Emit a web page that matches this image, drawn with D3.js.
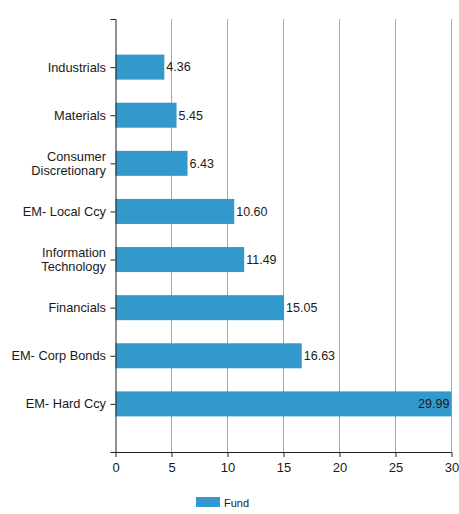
<!DOCTYPE html>
<html>
<head>
<meta charset="utf-8">
<script src="https://cdn.jsdelivr.net/npm/d3@7"></script>
<style>
  body { margin: 0; background: #fff; }
  text { font-family: "Liberation Sans", Arial, sans-serif; fill: #1a1a1a; }
</style>
</head>
<body>
<div id="chart"></div>
<script>
const categories = ["Industrials", "Materials", "Consumer Discretionary", "EM- Local Ccy",
  "Information Technology", "Financials", "EM- Corp Bonds", "EM- Hard Ccy"];
const labelLines = [["Industrials"], ["Materials"], ["Consumer", "Discretionary"], ["EM- Local Ccy"],
  ["Information", "Technology"], ["Financials"], ["EM- Corp Bonds"], ["EM- Hard Ccy"]];
const fundValues = [4.36, 5.45, 6.43, 10.60, 11.49, 15.05, 16.63, 29.99];
const xTicks = [0, 5, 10, 15, 20, 25, 30];
const seriesName = "Fund";

const width = 459, height = 514;
const margin = { top: 19, right: 8, bottom: 62, left: 115.5 };
const innerW = 451.5 - margin.left;
const innerH = 452 - margin.top;
const color = "#3399cc";

const data = categories.map((c, i) => ({ cat: c, lines: labelLines[i], value: fundValues[i] }));

const svg = d3.select("#chart").append("svg")
  .attr("width", width)
  .attr("height", height);

const g = svg.append("g").attr("transform", `translate(${margin.left},${margin.top})`);

const x = d3.scaleLinear().domain([0, 30]).range([0, innerW]);
const y = d3.scalePoint().domain(categories).range([0, innerH]).padding(1);
const barH = 25;

// gridlines
g.selectAll(".grid")
  .data(xTicks.filter(d => d > 0))
  .enter()
  .append("line")
  .attr("x1", d => x(d))
  .attr("x2", d => x(d))
  .attr("y1", 0)
  .attr("y2", innerH)
  .attr("stroke", "#a8a8a8")
  .attr("stroke-width", 1);

// bars
g.selectAll(".bar")
  .data(data)
  .enter()
  .append("rect")
  .attr("class", "bar")
  .attr("x", 0)
  .attr("y", d => y(d.cat) - barH / 2)
  .attr("width", d => x(d.value))
  .attr("height", barH)
  .attr("fill", color);

// value labels
g.selectAll(".val")
  .data(data)
  .enter()
  .append("text")
  .attr("class", "val")
  .attr("x", d => x(d.value) > innerW - 40 ? x(d.value) - 2 : x(d.value) + 2)
  .attr("y", d => y(d.cat))
  .attr("dy", "0.35em")
  .attr("text-anchor", d => x(d.value) > innerW - 40 ? "end" : "start")
  .style("font-size", "12.5px")
  .text(d => d.value.toFixed(2));

// x axis
const xAxis = g.append("g")
  .attr("transform", `translate(0,${innerH})`)
  .call(d3.axisBottom(x).tickValues(xTicks).tickSize(5).tickSizeOuter(0));
xAxis.select(".domain").attr("d", `M-5,0.5H${innerW}`).attr("stroke", "#222");
xAxis.selectAll(".tick line").attr("stroke", "#222");
xAxis.selectAll("text").style("font-size", "13px").attr("dy", "0.9em").attr("fill", "#1a1a1a");

// y axis
const yAxis = g.append("g")
  .call(d3.axisLeft(y).tickSize(5).tickSizeOuter(0).tickFormat(""));
yAxis.select(".domain").attr("d", `M-5,0.5H0.5V${innerH}`).attr("stroke", "#222");
yAxis.selectAll(".tick line").attr("stroke", "#222");

// category labels
const lab = g.selectAll(".cat")
  .data(data)
  .enter()
  .append("text")
  .attr("class", "cat")
  .attr("text-anchor", "end")
  .style("font-size", "12.8px")
  .attr("y", d => y(d.cat));
lab.selectAll("tspan")
  .data(d => d.lines.map((l, i) => ({ l, i, n: d.lines.length })))
  .enter()
  .append("tspan")
  .attr("x", -9.5)
  .attr("dy", d => d.i === 0 ? `${0.35 - (d.n - 1) * 0.55}em` : "1.1em")
  .text(d => d.l);

// legend
const leg = svg.append("g").attr("transform", "translate(196,497)");
leg.append("rect").attr("width", 24).attr("height", 10).attr("fill", color);
leg.append("text").attr("x", 28).attr("y", 9.5).style("font-size", "11px").text(seriesName);
</script>
</body>
</html>
